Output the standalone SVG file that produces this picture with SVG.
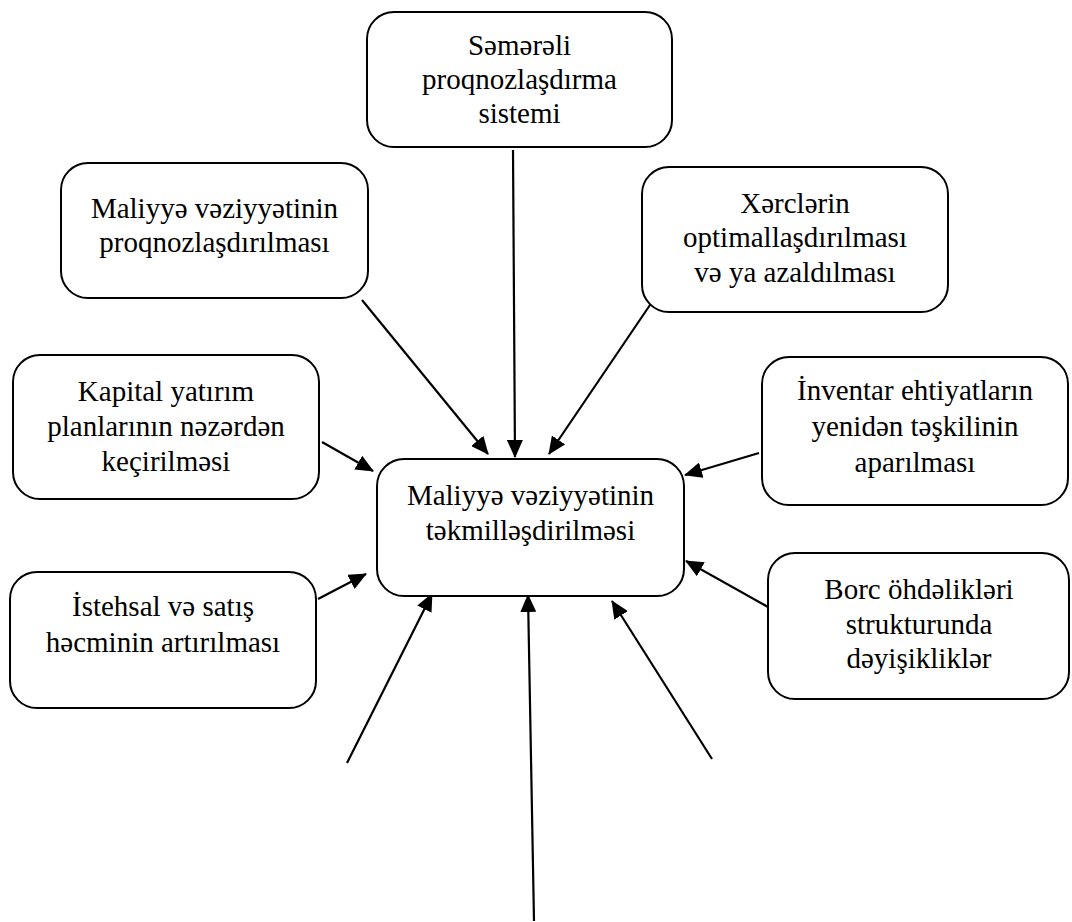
<svg xmlns="http://www.w3.org/2000/svg" width="1072" height="922" viewBox="0 0 1072 922">
<style>
.box{fill:#fff;stroke:#000;stroke-width:2}
.t{font-family:"Liberation Serif","Times New Roman",serif;font-size:29px;fill:#000;text-anchor:middle}
.c{stroke:#000;stroke-width:2.2;fill:none;marker-end:url(#ah)}
</style>
<defs>
<marker id="ah" markerUnits="userSpaceOnUse" markerWidth="19" markerHeight="16" refX="17" refY="8" orient="auto">
<path d="M0,0 L18,8 L0,16 z" fill="#000"/>
</marker>
</defs>
<rect width="1072" height="922" fill="#fff"/>
<g id="connectors">
<line class="c" x1="513" y1="150" x2="515" y2="457"/>
<line class="c" x1="362" y1="300" x2="488" y2="454"/>
<line class="c" x1="652" y1="302" x2="549" y2="454"/>
<line class="c" x1="322" y1="442" x2="373" y2="471"/>
<line class="c" x1="759" y1="453" x2="685" y2="475"/>
<line class="c" x1="318" y1="599" x2="366" y2="574"/>
<line class="c" x1="768" y1="607" x2="686" y2="561"/>
<line class="c" x1="347" y1="763" x2="432" y2="594"/>
<line class="c" x1="534" y1="921" x2="528" y2="595"/>
<line class="c" x1="712" y1="759" x2="612" y2="601"/>
</g>
<g id="n1"><rect class="box" x="367" y="12" width="305" height="135" rx="27"/>
<text class="t" x="519.5" y="55">Səmərəli</text><text class="t" x="519.5" y="89">proqnozlaşdırma</text><text class="t" x="519.5" y="123">sistemi</text></g>
<g id="n2"><rect class="box" x="61" y="163" width="307" height="135" rx="27"/>
<text class="t" x="214.5" y="218">Maliyyə vəziyyətinin</text><text class="t" x="214.5" y="252">proqnozlaşdırılması</text></g>
<g id="n3"><rect class="box" x="642" y="167" width="306" height="145" rx="27"/>
<text class="t" x="795" y="213">Xərclərin</text><text class="t" x="795" y="247">optimallaşdırılması</text><text class="t" x="795" y="282">və ya azaldılması</text></g>
<g id="n4"><rect class="box" x="13" y="355" width="306" height="144" rx="27"/>
<text class="t" x="166" y="401">Kapital yatırım</text><text class="t" x="166" y="436">planlarının nəzərdən</text><text class="t" x="166" y="471">keçirilməsi</text></g>
<g id="n5"><rect class="box" x="377" y="459" width="307" height="137" rx="27"/>
<text class="t" x="530.5" y="505">Maliyyə vəziyyətinin</text><text class="t" x="530.5" y="540">təkmilləşdirilməsi</text></g>
<g id="n6"><rect class="box" x="762" y="357" width="306" height="148" rx="27"/>
<text class="t" x="915" y="400">İnventar ehtiyatların</text><text class="t" x="915" y="436">yenidən təşkilinin</text><text class="t" x="915" y="472">aparılması</text></g>
<g id="n7"><rect class="box" x="10" y="572" width="306" height="136" rx="27"/>
<text class="t" x="163" y="616">İstehsal və satış</text><text class="t" x="163" y="652">həcminin artırılması</text></g>
<g id="n8"><rect class="box" x="768" y="553" width="301" height="146" rx="27"/>
<text class="t" x="919" y="599">Borc öhdəlikləri</text><text class="t" x="919" y="634">strukturunda</text><text class="t" x="919" y="668">dəyişikliklər</text></g>
</svg>
